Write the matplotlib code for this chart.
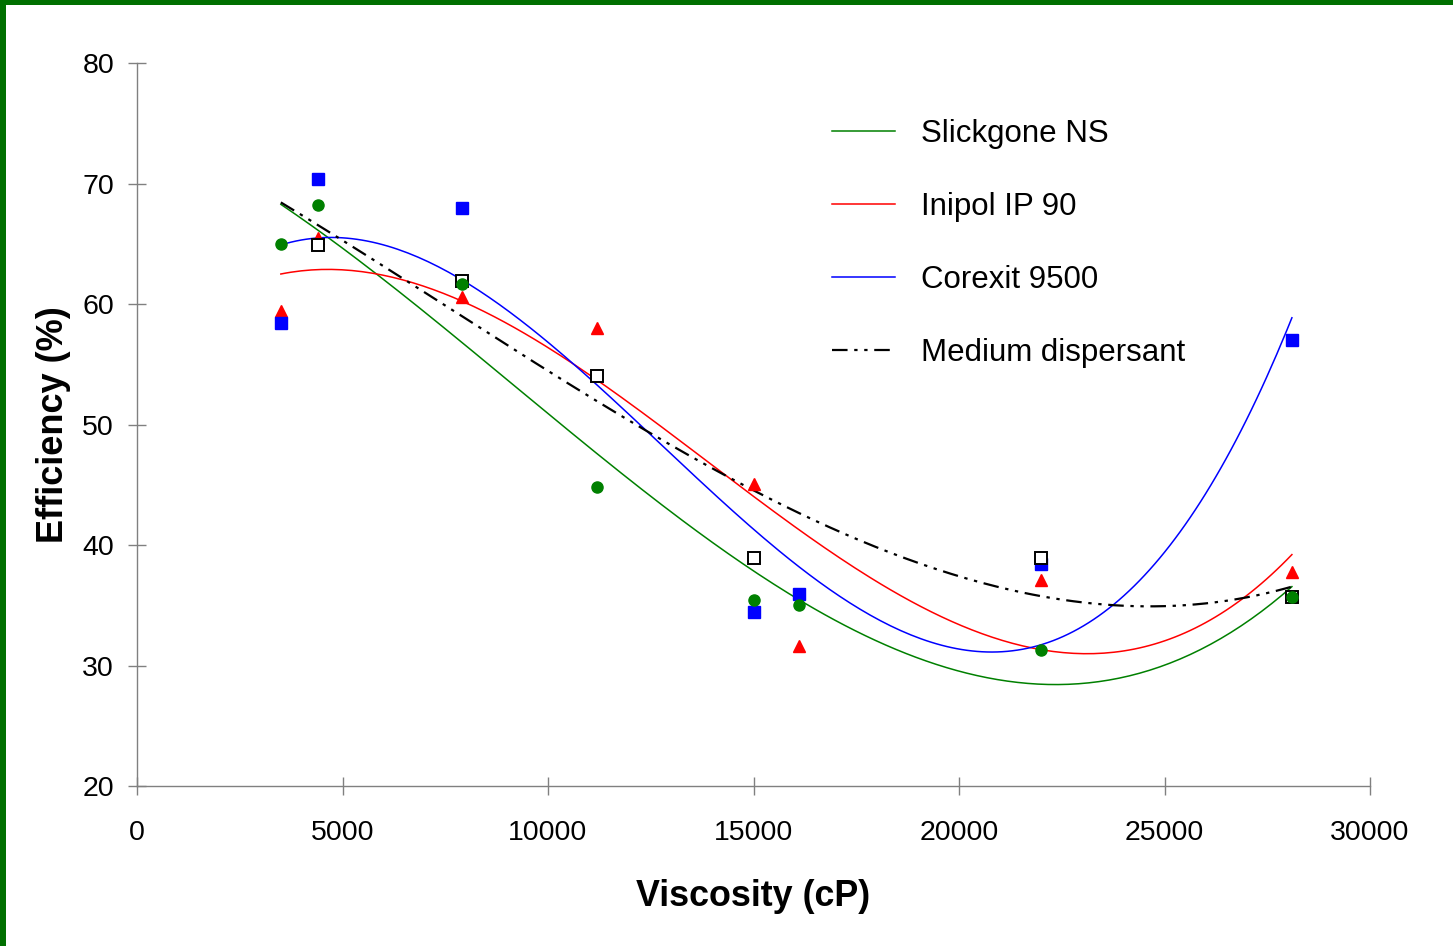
import numpy as np
import matplotlib
matplotlib.use('Agg')
import matplotlib.pyplot as plt
from matplotlib.patches import Rectangle

plt.rcParams['font.family'] = ['Liberation Sans', 'DejaVu Sans']

# Measured efficiency vs oil viscosity
viscosity = [3500, 4400, 7900, 11200, 15000, 16100, 22000, 28100]
slickgone = [65.0, 68.2, 61.7, 44.8, 35.4, 35.0, 31.3, 35.7]
inipol = [59.4, 65.5, 60.6, 58.0, 45.1, 31.6, 37.1, 37.8]
corexit = [58.4, 70.4, 68.0, np.nan, 34.4, 35.9, 38.4, 57.0]
medium = [np.nan, 64.9, 61.9, 54.0, 38.9, np.nan, 38.9, 35.7]

labels = ['Slickgone NS', 'Inipol IP 90', 'Corexit 9500', 'Medium dispersant']
x_ticks = [0, 5000, 10000, 15000, 20000, 25000, 30000]
y_ticks = [20, 30, 40, 50, 60, 70, 80]


# 3rd order polynomial trendline, like the spreadsheet one
def trend(x, y):
    x = np.asarray(x, float)
    y = np.asarray(y, float)
    ok = ~np.isnan(y)
    coef = np.polyfit(x[ok], y[ok], 3)
    xs = np.linspace(min(viscosity), max(viscosity), 200)
    return xs, np.polyval(coef, xs)


fig = plt.figure(figsize=(14.53, 9.46), dpi=100)
ax = fig.add_axes([137 / 1453, 1 - 786 / 946, 1233 / 1453, 723 / 946])

# trendlines
xs, ys = trend(viscosity, slickgone)
ax.plot(xs, ys, color='#008000', lw=1.1, label=labels[0])
xs, ys = trend(viscosity, inipol)
ax.plot(xs, ys, color='#ff0000', lw=1.1, label=labels[1])
xs, ys = trend(viscosity, corexit)
ax.plot(xs, ys, color='#0000ff', lw=1.1, label=labels[2])
xs, ys = trend(viscosity, medium)
ax.plot(xs, ys, color='black', lw=1.6, ls=(0, (7, 3, 1.5, 3, 1.5, 3)), label=labels[3])

# measured points
ax.plot(viscosity, inipol, ls='none', marker='^', ms=8.5, color='#ff0000', mec='#ff0000')
ax.plot(viscosity, corexit, ls='none', marker='s', ms=8, color='#0000ff', mec='#0000ff')
ax.plot(viscosity, medium, ls='none', marker='s', ms=8, mfc='white', mec='black', mew=1.4)
ax.plot(viscosity, slickgone, ls='none', marker='o', ms=8, color='#008000', mec='#008000')

ax.set_xlim(0, 30000)
ax.set_ylim(20, 80)
ax.set_xticks(x_ticks)
ax.set_yticks(y_ticks)
ax.tick_params(direction='inout', length=13, width=1, color='#808080', labelsize=20.5)
ax.tick_params(axis='x', pad=18)
ax.tick_params(axis='y', pad=10)
for s in ['top', 'right']:
    ax.spines[s].set_visible(False)
for s in ['left', 'bottom']:
    ax.spines[s].set_color('#808080')
    ax.spines[s].set_linewidth(1)

ax.set_xlabel('Viscosity (cP)', fontsize=25.8, fontweight='bold', labelpad=24)
ax.set_ylabel('Efficiency (%)', fontsize=26, fontweight='bold', labelpad=8)

ax.legend(loc='upper left', bbox_to_anchor=(0.541, 0.962), frameon=False, fontsize=22.5,
          handlelength=2.0, handletextpad=0.85, labelspacing=1.38)

# green frame of the slide
fig.add_artist(Rectangle((0, 0), 6 / 1453, 1, transform=fig.transFigure, color='#007000', lw=0))
fig.add_artist(Rectangle((0, 1 - 5 / 946), 1, 5 / 946, transform=fig.transFigure, color='#007000', lw=0))

fig.savefig('out.png', dpi=100)
